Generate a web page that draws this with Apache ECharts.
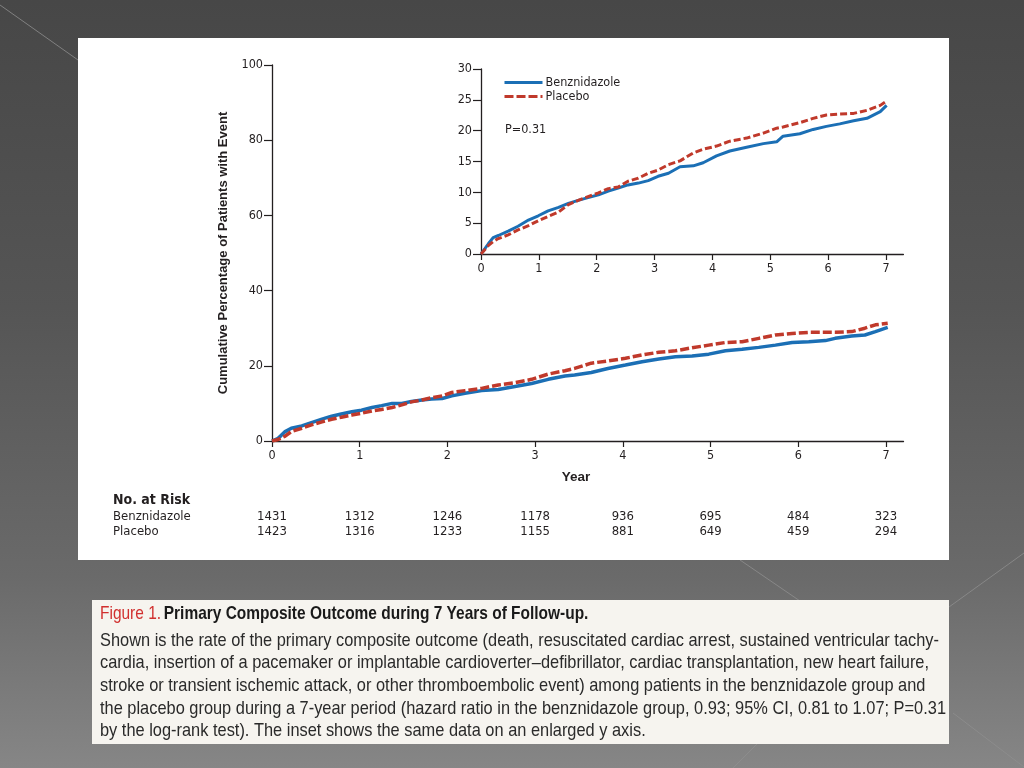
<!DOCTYPE html>
<html>
<head>
<meta charset="utf-8">
<script src="https://cdn.jsdelivr.net/npm/echarts@6/dist/echarts.min.js"></script>
<style>
html,body{margin:0;padding:0;background:#4b4b4b;}
#c{width:1024px;height:768px;}
</style>
</head>
<body>
<div id="c"></div>
<script>
// ---------- data ----------
const years = [0, 1, 2, 3, 4, 5, 6, 7];
const riskBenz = [1431, 1312, 1246, 1178, 936, 695, 484, 323];
const riskPlac = [1423, 1316, 1233, 1155, 881, 649, 459, 294];
const mainYTicks = [0, 20, 40, 60, 80, 100];
const insetYTicks = [0, 5, 10, 15, 20, 25, 30];

// main panel
const mainTime = [0, 0.07, 0.15, 0.22, 0.34, 0.45, 0.57, 0.68, 0.79, 0.91,
  1.02, 1.14, 1.25, 1.37, 1.48, 1.59, 1.71, 1.82, 1.94,
  2.05, 2.2, 2.39, 2.58, 2.77, 2.96,
  3.15, 3.34, 3.45, 3.64, 3.83,
  4.03, 4.22, 4.41, 4.6, 4.79, 4.98,
  5.17, 5.36, 5.55, 5.74, 5.93,
  6.12, 6.31, 6.42, 6.61, 6.76, 6.88, 7.02];
const mainBenz = [0, 0.7, 2.5, 3.4, 4.0, 4.9, 5.8, 6.6, 7.2, 7.8,
  8.2, 8.9, 9.4, 10.0, 10.0, 10.5, 10.9, 11.2, 11.3,
  12.0, 12.7, 13.4, 13.7, 14.5, 15.3,
  16.4, 17.3, 17.55, 18.2, 19.3,
  20.2, 21.1, 21.8, 22.4, 22.6, 23.1,
  24.0, 24.4, 24.9, 25.5, 26.2,
  26.4, 26.7, 27.3, 27.9, 28.2, 29.1, 30.2];
const mainPlac = [0, 0.4, 1.3, 2.5, 3.4, 4.3, 5.1, 5.8, 6.3, 6.9,
  7.4, 8.0, 8.4, 8.9, 9.6, 10.4, 10.9, 11.5, 12.0,
  12.9, 13.4, 14.0, 14.9, 15.5, 16.4,
  17.8, 18.7, 19.3, 20.7, 21.3,
  22.0, 22.9, 23.6, 24.0, 24.8, 25.5,
  26.2, 26.4, 27.3, 28.2, 28.6,
  28.9, 28.9, 28.9, 29.1, 30.0, 30.9, 31.3];

// inset panel
const insetTime = [0, 0.13, 0.21, 0.3, 0.47, 0.64, 0.82, 0.99,
  1.16, 1.34, 1.51, 1.68, 1.85,
  2.03, 2.2, 2.37, 2.54, 2.72, 2.89,
  3.06, 3.24, 3.44, 3.67, 3.84,
  4.07, 4.3, 4.59, 4.88,
  5.11, 5.22, 5.51, 5.74, 5.97,
  6.2, 6.44, 6.67, 6.9, 7.01];
const insetBenz = [0, 1.7, 2.66, 3.0, 3.7, 4.5, 5.5, 6.2,
  7.0, 7.55, 8.2, 8.7, 9.15,
  9.6, 10.2, 10.7, 11.2, 11.5, 11.9,
  12.6, 13.1, 14.15, 14.3, 14.8,
  15.9, 16.7, 17.3, 17.9,
  18.2, 19.1, 19.5, 20.2, 20.7,
  21.1, 21.6, 22.0, 23.1, 24.1];
const insetPlac = [0, 1.4, 2.0, 2.5, 3.1, 3.9, 4.6, 5.4,
  6.1, 6.8, 8.0, 8.7, 9.3,
  9.9, 10.6, 10.85, 11.8, 12.3, 13.1,
  13.6, 14.5, 15.1, 16.4, 17.0,
  17.5, 18.3, 18.8, 19.6,
  20.4, 20.6, 21.3, 22.0, 22.55,
  22.7, 22.8, 23.3, 24.1, 24.8];

const seriesNames = ['Benznidazole', 'Placebo'];
const captionTitleRed = 'Figure 1.';
const captionTitle = 'Primary Composite Outcome during 7 Years of Follow-up.';
const captionLines = [
  'Shown is the rate of the primary composite outcome (death, resuscitated cardiac arrest, sustained ventricular tachy-',
  'cardia, insertion of a pacemaker or implantable cardioverter\u2013defibrillator, cardiac transplantation, new heart failure,',
  'stroke or transient ischemic attack, or other thromboembolic event) among patients in the benznidazole group and',
  'the placebo group during a 7-year period (hazard ratio in the benznidazole group, 0.93; 95% CI, 0.81 to 1.07; P=0.31',
  'by the log-rank test). The inset shows the same data on an enlarged y axis.'
];

// ---------- styles ----------
const BLUE = '#1b6fb5';
const RED = '#c0392b';
const INK = '#231f20';
const FONT = "'DejaVu Sans Condensed','Liberation Sans',sans-serif";
const CAPFONT = "'Liberation Sans',sans-serif";

const zip = (t, v) => t.map((x, i) => [x, v[i]]);

function xAxisCfg(gridIndex, max) {
  return {
    type: 'value', gridIndex, min: 0, max, interval: 1,
    axisLine: { show: true, lineStyle: { color: INK, width: 1.3 } },
    axisTick: { show: true, length: 6, customValues: years, lineStyle: { color: INK, width: 1.2 } },
    axisLabel: { customValues: years, color: INK, fontFamily: FONT, fontSize: 12.5, margin: 8 },
    splitLine: { show: false }
  };
}
function yAxisCfg(gridIndex, max, interval, extra) {
  return Object.assign({
    type: 'value', gridIndex, min: 0, max, interval,
    axisLine: { show: true, lineStyle: { color: INK, width: 1.3 } },
    axisTick: { show: true, length: 8, lineStyle: { color: INK, width: 1.2 } },
    axisLabel: { color: INK, fontFamily: FONT, fontSize: 12.5, margin: 9 },
    splitLine: { show: false }
  }, extra || {});
}

const chart = echarts.init(document.getElementById('c'), null, { renderer: 'canvas' });

const option = {
  animation: false,
  backgroundColor: '#4b4b4b',
  legend: {
    data: seriesNames,
    orient: 'vertical',
    left: 503, top: 76,
    itemWidth: 38, itemHeight: 14, itemGap: 1,
    padding: 0,
    selectedMode: false,
    itemStyle: { opacity: 0 },
    lineStyle: { width: 3 },
    textStyle: { color: INK, fontFamily: FONT, fontSize: 12.5, padding: [0, 0, 0, -2] }
  },
  grid: [
    { left: 272, top: 65, width: 631.5, height: 376 },
    { left: 481, top: 69, width: 422.4, height: 185 }
  ],
  xAxis: [xAxisCfg(0, 7.2), xAxisCfg(1, 7.3)],
  yAxis: [
    yAxisCfg(0, 100, 20, {
      name: 'Cumulative Percentage of Patients with Event',
      nameLocation: 'middle', nameGap: 42,
      nameTextStyle: { color: INK, fontFamily: "'Liberation Sans',sans-serif", fontWeight: 'bold', fontSize: 13 }
    }),
    yAxisCfg(1, 30, 5)
  ],
  series: [
    { name: seriesNames[0], type: 'line', xAxisIndex: 0, yAxisIndex: 0, data: zip(mainTime, mainBenz),
      showSymbol: false, symbol: 'none', lineStyle: { color: BLUE, width: 3.5 }, itemStyle: { color: BLUE }, z: 3 },
    { name: seriesNames[1], type: 'line', xAxisIndex: 0, yAxisIndex: 0, data: zip(mainTime, mainPlac),
      showSymbol: false, symbol: 'none', lineStyle: { color: RED, width: 3.5, type: [9, 3] }, itemStyle: { color: RED }, z: 4 },
    { name: seriesNames[0], type: 'line', xAxisIndex: 1, yAxisIndex: 1, data: zip(insetTime, insetBenz),
      showSymbol: false, symbol: 'none', lineStyle: { color: BLUE, width: 3 }, itemStyle: { color: BLUE }, z: 3 },
    { name: seriesNames[1], type: 'line', xAxisIndex: 1, yAxisIndex: 1, data: zip(insetTime, insetPlac),
      showSymbol: false, symbol: 'none', lineStyle: { color: RED, width: 3, type: [7, 3] }, itemStyle: { color: RED }, z: 4 }
  ]
};
chart.setOption(option);

// ---------- decorations, table & caption ----------
function measure(text, font) {
  const cv = document.createElement('canvas').getContext('2d');
  cv.font = font;
  return cv.measureText(text).width;
}
const capSize = 19;
const capFontStr = capSize + 'px ' + CAPFONT;
const lineTargets = [845, 842, 841, 846];
const capScale = Math.min.apply(null, lineTargets.map((w, i) => w / measure(captionLines[i], capFontStr)));
const titleW = measure(captionTitleRed + ' ', capFontStr) + measure(captionTitle, 'bold ' + capFontStr);
const titleScale = 490 / titleW;

const gfx = [];
// background
gfx.push({ type: 'rect', z: -100, shape: { x: 0, y: 0, width: 1024, height: 768 },
  style: { fill: new echarts.graphic.LinearGradient(0, 0, 0, 1, [
    { offset: 0, color: '#474747' }, { offset: 0.4, color: '#555555' },
    { offset: 0.75, color: '#6a6a6a' }, { offset: 1, color: '#868686' }]) } });
const bgLines = [[0, 5, 78, 60], [740, 560, 800, 601], [949, 607, 1024, 553], [953, 713, 1024, 767], [733, 768, 757, 744]];
bgLines.forEach(l => gfx.push({ type: 'line', z: -99, shape: { x1: l[0], y1: l[1], x2: l[2], y2: l[3] },
  style: { stroke: '#8f8f8f', lineWidth: 1, opacity: 0.8 } }));
// white figure panel
gfx.push({ type: 'rect', z: -98, shape: { x: 78, y: 38, width: 871, height: 522 }, style: { fill: '#ffffff' } });
// caption panel
gfx.push({ type: 'rect', z: -98, shape: { x: 92, y: 600, width: 857, height: 144 }, style: { fill: '#f6f4ef' } });

// Year label, P value
gfx.push({ type: 'text', z: 50, x: 576, y: 477, style: { text: 'Year', fill: INK, font: "bold 13.5px 'Liberation Sans',sans-serif", align: 'center', verticalAlign: 'middle' } });
gfx.push({ type: 'text', z: 50, x: 505, y: 130, style: { text: 'P=0.31', fill: INK, font: '12.5px ' + FONT, align: 'left', verticalAlign: 'middle' } });

// No. at Risk table
gfx.push({ type: 'text', z: 50, x: 113, y: 500, style: { text: 'No. at Risk', fill: INK, font: "bold 14px " + FONT, align: 'left', verticalAlign: 'middle' } });
gfx.push({ type: 'text', z: 50, x: 113, y: 517, style: { text: seriesNames[0], fill: INK, font: '13px ' + FONT, align: 'left', verticalAlign: 'middle' } });
gfx.push({ type: 'text', z: 50, x: 113, y: 532, style: { text: seriesNames[1], fill: INK, font: '13px ' + FONT, align: 'left', verticalAlign: 'middle' } });
years.forEach((yr, i) => {
  const px = chart.convertToPixel({ xAxisIndex: 0 }, yr);
  gfx.push({ type: 'text', z: 50, x: px, y: 517, style: { text: String(riskBenz[i]), fill: INK, font: '13px ' + FONT, align: 'center', verticalAlign: 'middle' } });
  gfx.push({ type: 'text', z: 50, x: px, y: 532, style: { text: String(riskPlac[i]), fill: INK, font: '13px ' + FONT, align: 'center', verticalAlign: 'middle' } });
});

// caption
gfx.push({ type: 'text', z: 50, x: 100, y: 614, scaleX: titleScale,
  style: {
    text: '{r|' + captionTitleRed + '} {b|' + captionTitle + '}',
    verticalAlign: 'middle', align: 'left',
    rich: {
      r: { fill: '#d1302f', font: capFontStr },
      b: { fill: '#1a1a1a', font: 'bold ' + capFontStr }
    }
  } });
const lineYs = [641, 663, 686, 709, 731];
captionLines.forEach((t, i) => {
  gfx.push({ type: 'text', z: 50, x: 100, y: lineYs[i], scaleX: capScale,
    style: { text: t, fill: '#2a2a2a', font: capFontStr, align: 'left', verticalAlign: 'middle' } });
});

chart.setOption({ graphic: { elements: gfx } });
</script>
</body>
</html>
